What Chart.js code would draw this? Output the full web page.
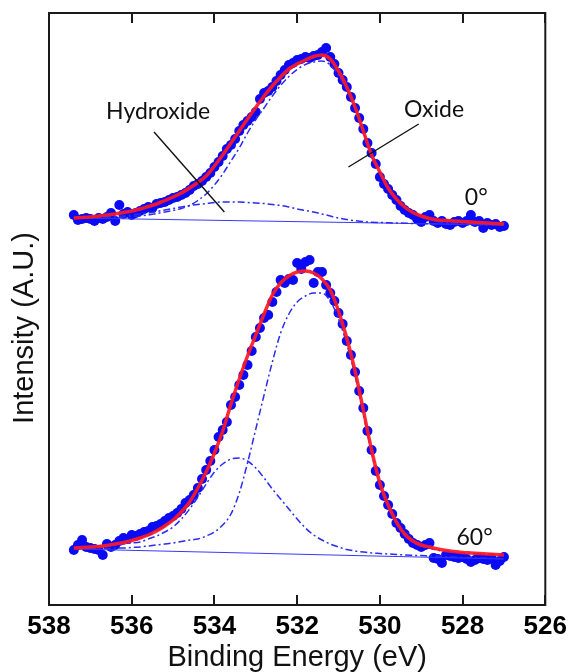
<!DOCTYPE html>
<html>
<head>
<meta charset="utf-8">
<script src="https://cdn.jsdelivr.net/npm/chart.js@4.4.1/dist/chart.umd.min.js"></script>
<style>
  html, body { margin: 0; padding: 0; background: #fff; }
  #wrap { width: 573px; height: 672px; position: relative; }
</style>
</head>
<body>
<div id="wrap"><canvas id="xps"></canvas></div>
<script>
// scan energies (eV), one reading every 0.1 eV
const scanEnergy = [
  537.4, 537.3, 537.2, 537.1, 537.0, 536.9, 536.8, 536.7, 536.6, 536.5,
  536.4, 536.3, 536.2, 536.1, 536.0, 535.9, 535.8, 535.7, 535.6, 535.5,
  535.4, 535.3, 535.2, 535.1, 535.0, 534.9, 534.8, 534.7, 534.6, 534.5,
  534.4, 534.3, 534.2, 534.1, 534.0, 533.9, 533.8, 533.7, 533.6, 533.5,
  533.4, 533.3, 533.2, 533.1, 533.0, 532.9, 532.8, 532.7, 532.6, 532.5,
  532.4, 532.3, 532.2, 532.1, 532.0, 531.9, 531.8, 531.7, 531.6, 531.5,
  531.4, 531.3, 531.2, 531.1, 531.0, 530.9, 530.8, 530.7, 530.6, 530.5,
  530.4, 530.3, 530.2, 530.1, 530.0, 529.9, 529.8, 529.7, 529.6, 529.5,
  529.4, 529.3, 529.2, 529.1, 529.0, 528.9, 528.8, 528.7, 528.6, 528.5,
  528.4, 528.3, 528.2, 528.1, 528.0, 527.9, 527.8, 527.7, 527.6, 527.5,
  527.4, 527.3, 527.2, 527.1, 527.0
];

// measured counts, 0 deg (stacked on top)
const counts0 = [
  390, 385, 386, 387, 386, 384, 387, 386, 388, 392,
  384, 400, 391, 393, 390, 392, 394, 396, 398, 397,
  401, 402, 403, 405, 407, 408, 410, 412, 415, 419,
  421, 424, 428, 432, 438, 443, 449, 456, 460, 466,
  474, 480, 484, 488, 493, 506, 512, 514, 518, 524,
  530, 535, 540, 542, 545, 546, 548, 547, 549, 550,
  553, 557, 548, 541, 532, 525, 518, 508, 497, 487,
  476, 462, 452, 441, 428, 421, 416, 410, 405, 399,
  395, 392, 390, 386, 383, 388, 390, 384, 382, 384,
  381, 380, 383, 384, 382, 384, 390, 383, 384, 377,
  382, 380, 381, 378, 379
];

// measured counts, 60 deg
const counts60 = [
  55, 60, 65, 58, 57, 56, 55, 50, 61, 58,
  60, 64, 67, 66, 70, 69, 71, 73, 74, 78,
  79, 81, 84, 87, 89, 92, 96, 102, 105, 110,
  117, 126, 135, 144, 155, 168, 175, 183, 200, 208,
  220, 230, 240, 254, 268, 277, 287, 290, 303, 313,
  325, 322, 326, 325, 342, 336, 343, 345, 322, 333,
  333, 320, 312, 304, 292, 281, 264, 250, 233, 214,
  197, 174, 155, 134, 120, 109, 100, 91, 82, 77,
  71, 66, 62, 60, 58, 60, 62, 47, 46, 42,
  50, 49, 48, 47, 48, 46, 43, 45, 47, 46,
  45, 47, 40, 44, 48
];

// fitted curves, sampled every 0.2 eV
const fitEnergy = [
  537.4, 537.2, 537.0, 536.8, 536.6, 536.4, 536.2, 536.0, 535.8, 535.6,
  535.4, 535.2, 535.0, 534.8, 534.6, 534.4, 534.2, 534.0, 533.8, 533.6,
  533.4, 533.2, 533.0, 532.8, 532.6, 532.4, 532.2, 532.0, 531.8, 531.6,
  531.4, 531.2, 531.0, 530.8, 530.6, 530.4, 530.2, 530.0, 529.8, 529.6,
  529.4, 529.2, 529.0, 528.8, 528.6, 528.4, 528.2, 528.0, 527.8, 527.6,
  527.4, 527.2, 527.0
];

const envelope0 = [
  387, 387.5, 388, 389, 390, 391, 392.5, 394, 396, 398.5,
  401, 404.5, 408, 412, 417, 422.5, 429, 439, 450, 462,
  474, 486, 497.5, 509, 519, 528, 536, 541, 545, 548.5,
  550, 546, 534, 518, 498, 474, 450, 433, 417, 406,
  398, 392.5, 389, 386.5, 385, 384.5, 384, 383.5, 383, 382.5,
  382, 381.5, 381
];
const oxide0 = [
  387, 387, 387, 387, 387, 387.5, 388, 388.5, 389, 390,
  391.5, 393, 394.5, 396.5, 399.5, 404.5, 411, 420, 431, 444,
  457, 472, 485.5, 497, 509, 519.5, 528.5, 535.5, 540.5, 543,
  544, 540, 529.5, 515, 496, 473, 449.4, 432.5, 416.7, 405.8,
  397.8, 392.5, 389, 386, 383.5, 382.5, 382, 381.7, 381.5, 381.2,
  381, 380.8, 380.5
];
const hydroxide0 = [
  387, 387, 387, 387.5, 388, 388.5, 389, 390, 391, 392,
  393.5, 395, 396.5, 398, 399.5, 400.5, 401.5, 402.5, 403, 403,
  403, 402.5, 402, 401.5, 400.5, 399.5, 398, 396, 394.5, 393,
  391, 389, 387, 385.5, 384.3, 383.4, 382.8, 382.5, 382.2, 382,
  381.8, 381.5, 381.3, 381.1, 381, 380.8, 380.6, 380.5, 380.3, 380.2,
  380.1, 380, 380
];

const envelope60 = [
  57, 57.5, 58, 58.5, 59.5, 61, 62.5, 64.5, 67, 70,
  74, 79, 85, 93, 103, 117, 133, 152, 174, 201,
  226, 249, 270, 291, 310, 322, 329, 333, 334, 332,
  326, 315, 294, 267, 234, 195, 155, 122, 100, 83,
  71, 64, 60, 58, 56, 54.5, 53.5, 52.5, 52, 51.5,
  51, 50.5, 50
];
const oxide60 = [
  56.5, 56.5, 56.5, 56.5, 56.5, 57, 57, 57.5, 58, 59,
  60, 61, 62, 63.5, 65, 66, 69, 73, 80, 91,
  112, 142, 176, 210, 243, 272, 291, 303, 309, 312,
  312, 304, 286, 261, 229.5, 191, 152, 119.4, 97.7, 81,
  69.3, 62.4, 58.5, 56.7, 54.8, 53.4, 52.7, 51.8, 51.4, 51.1,
  50.6, 50.2, 49.8
];
const hydroxide60 = [
  57, 57.5, 58, 58.5, 59, 60, 61, 62, 63, 66,
  69, 73, 78, 86, 96, 108, 121, 133, 141, 146,
  147, 144, 137, 127, 116, 106, 96, 86, 77, 70,
  65, 61, 58, 55.5, 54, 53, 52, 51.5, 51, 50.5,
  50, 49.7, 49.4, 49, 48.7, 48.4, 48, 47.7, 47.4, 47,
  46.8, 46.5, 46.2
];

// linear backgrounds (end points)
const bgEnergy = [537.4, 527.0];
const background0 = [387, 380];
const background60 = [56, 46];

const energyTicks = [538, 536, 534, 532, 530, 528, 526];

// labels placed in data units
const notes = [
  { text: 'Hydroxide', x: 535.36, y: 493 },
  { text: 'Oxide', x: 528.69, y: 495 },
  { text: '0°', x: 527.67, y: 407 },
  { text: '60°', x: 527.71, y: 67 }
];
const leaders = [
  { from: [535.46, 473], to: [533.76, 393] },
  { from: [529.06, 481], to: [530.76, 438] }
];

function toPoints(xs, ys) {
  return xs.map((x, i) => ({ x: x, y: ys[i] }));
}

const BLUE = '#0a0af5';
const DASH_BLUE = '#2b2bf5';

function scanSet(ys) {
  return {
    data: toPoints(scanEnergy, ys),
    showLine: false,
    pointRadius: 5,
    pointBackgroundColor: BLUE,
    pointBorderWidth: 0,
    order: 3
  };
}
function curveSet(ys, kind) {
  const ds = {
    data: toPoints(fitEnergy, ys),
    showLine: true,
    pointRadius: 0,
    fill: false,
    cubicInterpolationMode: 'monotone'
  };
  if (kind === 'fit') {
    ds.borderColor = 'rgba(255, 25, 35, 0.92)';
    ds.borderWidth = 3.5;
    ds.order = 0;
  } else {
    ds.borderColor = DASH_BLUE;
    ds.borderWidth = 1.5;
    ds.borderDash = [7, 3, 2, 3];
    ds.order = 1;
  }
  return ds;
}
function backgroundSet(ys) {
  return {
    data: toPoints(bgEnergy, ys),
    showLine: true,
    pointRadius: 0,
    borderColor: '#3a3af5',
    borderWidth: 1.2,
    order: 2
  };
}

// frame with inward ticks, y title and the labels
const framePlugin = {
    id: 'frame',
    afterDraw(chart) {
        const ctx = chart.ctx;
        const area = chart.chartArea;
        const xs = chart.scales.x;
        const ys = chart.scales.y;
        ctx.save();
        ctx.strokeStyle = '#1a1a1a';
        ctx.lineWidth = 2;
        ctx.strokeRect(area.left, area.top, area.right - area.left, area.bottom - area.top);
        ctx.beginPath();
        energyTicks.forEach((e) => {
            const px = Math.round(xs.getPixelForValue(e));
            ctx.moveTo(px, area.top);
            ctx.lineTo(px, area.top + 10);
            ctx.moveTo(px, area.bottom);
            ctx.lineTo(px, area.bottom - 10);
        });
        ctx.stroke();

        // leader lines
        ctx.lineWidth = 1.4;
        ctx.strokeStyle = '#111';
        leaders.forEach((l) => {
            ctx.beginPath();
            ctx.moveTo(xs.getPixelForValue(l.from[0]), ys.getPixelForValue(l.from[1]));
            ctx.lineTo(xs.getPixelForValue(l.to[0]), ys.getPixelForValue(l.to[1]));
            ctx.stroke();
        });

        ctx.fillStyle = '#111';
        ctx.font = '23px Lato';
        ctx.textAlign = 'center';
        ctx.textBaseline = 'middle';
        notes.forEach((n) => {
            ctx.fillText(n.text, xs.getPixelForValue(n.x), ys.getPixelForValue(n.y));
        });

        // y axis title
        ctx.translate(25, 328);
        ctx.rotate(-Math.PI / 2);
        ctx.font = '29px "Liberation Sans"';
        ctx.fillText('Intensity (A.U.)', 0, 0);
        ctx.restore();
    }
};

new Chart(document.getElementById('xps'), {
    type: 'scatter',
    data: {
        datasets: [
            scanSet(counts0),
            scanSet(counts60),
            backgroundSet(background0),
            backgroundSet(background60),
            curveSet(oxide0, 'comp'),
            curveSet(hydroxide0, 'comp'),
            curveSet(oxide60, 'comp'),
            curveSet(hydroxide60, 'comp'),
            curveSet(envelope0, 'fit'),
            curveSet(envelope60, 'fit')
        ]
    },
    options: {
        responsive: true,
        maintainAspectRatio: false,
        animation: false,
        layout: { padding: { top: 13, right: 23, left: 0, bottom: 0 } },
        plugins: {
            legend: { display: false },
            tooltip: { enabled: false }
        },
        scales: {
            x: {
                type: 'linear',
                min: 526,
                max: 538,
                reverse: true,
                border: { display: false },
                grid: { display: false, drawTicks: false },
                afterBuildTicks: (scale) => {
                    scale.ticks = energyTicks.map((v) => ({ value: v }));
                },
                afterFit: (scale) => { scale.height = 67; },
                ticks: {
                    padding: 6,
                    color: '#000',
                    font: { family: '"Liberation Sans"', size: 26, weight: 'bold' }
                },
                title: {
                    display: true,
                    text: 'Binding Energy (eV)',
                    color: '#111',
                    padding: 0,
                    font: { family: '"Liberation Sans"', size: 29, lineHeight: 1 }
                }
            },
            y: {
                min: 0,
                max: 592,
                border: { display: false },
                grid: { display: false, drawTicks: false },
                ticks: { display: false },
                afterFit: (scale) => { scale.width = 49; }
            }
        }
    },
    plugins: [framePlugin]
});
</script>
</body>
</html>
